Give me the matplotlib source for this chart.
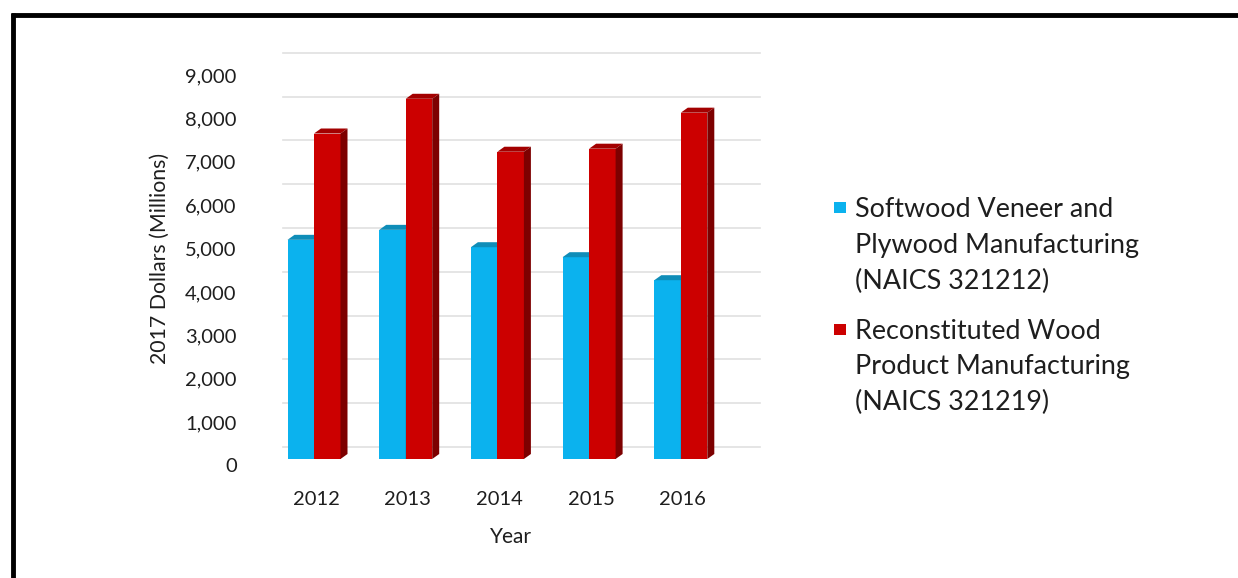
import matplotlib
matplotlib.use("Agg")
import matplotlib.pyplot as plt
from matplotlib.patches import Polygon, Rectangle
from matplotlib.lines import Line2D
import matplotlib.transforms as mtransforms

plt.rcParams['font.family'] = ['Lato', 'DejaVu Sans']

# ---- data ----
years = ["2012", "2013", "2014", "2015", "2016"]
softwood = [5050, 5280, 4880, 4650, 4120]
reconstituted = [7500, 8300, 7080, 7150, 7980]
series_names = [
    ["Softwood Veneer and", "Plywood Manufacturing", "(NAICS 321212)"],
    ["Reconstituted Wood", "Product Manufacturing", "(NAICS 321219)"],
]
y_ticks = [0, 1000, 2000, 3000, 4000, 5000, 6000, 7000, 8000, 9000]
y_tick_labels = [f"{v:,}" for v in y_ticks]

# ---- style ----
TEXT = "#1e1e1e"
front_cols = ["#0bb2ee", "#cc0000"]
top_cols = ["#0f8db8", "#a30000"]
side_cols = ["#0a7ea6", "#7d0000"]
GRID = "#e0e0e0"

W, H, DPI = 1238, 578, 100
fig = plt.figure(figsize=(W / DPI, H / DPI), dpi=DPI)
fig.patch.set_facecolor("white")

# plot area in pixel terms (from top-left)
PX_L, PX_R, PX_T, PX_B = 245, 800, 30, 480
CAT0_PX, CAT_STEP_PX = 314, 91.7        # first category centre, spacing
ZERO_PX, PX_PER_UNIT = 459, 0.0434      # front-plane baseline and scale

ax = fig.add_axes([PX_L / W, 1 - PX_B / H, (PX_R - PX_L) / W, (PX_B - PX_T) / H])
ax.set_xlim((PX_L - CAT0_PX) / CAT_STEP_PX, (PX_R - CAT0_PX) / CAT_STEP_PX)
ax.set_ylim((ZERO_PX - PX_B) / PX_PER_UNIT, (ZERO_PX - PX_T) / PX_PER_UNIT)
for s in ax.spines.values():
    s.set_visible(False)
ax.set_facecolor("none")

# 3-D look: bar width and depth offsets
bar_w = 26.5 / CAT_STEP_PX
bar_dx = 7.0 / CAT_STEP_PX
bar_dy = 5.0 / PX_PER_UNIT
floor_dy = 12.0 / PX_PER_UNIT
wall_scale = 0.0438 / PX_PER_UNIT
wall_x0 = (283 - CAT0_PX) / CAT_STEP_PX
wall_x1 = (760 - CAT0_PX) / CAT_STEP_PX

# back-wall gridlines
for v in y_ticks:
    yy = floor_dy + v * wall_scale
    ax.add_line(Line2D([wall_x0, wall_x1], [yy, yy], color=GRID, lw=1.2, zorder=1))

# bars
for k, vals in enumerate([softwood, reconstituted]):
    for i, v in enumerate(vals):
        x0 = i - bar_w if k == 0 else i
        x1 = x0 + bar_w
        ax.add_patch(Rectangle((x0, 0), bar_w, v, facecolor=front_cols[k],
                               edgecolor="none", zorder=3 + k))
        ax.add_patch(Polygon([(x0, v), (x1, v), (x1 + bar_dx, v + bar_dy),
                              (x0 + bar_dx, v + bar_dy)], closed=True,
                             facecolor=top_cols[k], edgecolor="none", zorder=3 + k))
        ax.add_patch(Polygon([(x1, 0), (x1 + bar_dx, bar_dy), (x1 + bar_dx, v + bar_dy),
                              (x1, v)], closed=True,
                             facecolor=side_cols[k], edgecolor="none", zorder=3 + k))

# axes ticks
ax.set_yticks(y_ticks)
ax.set_yticklabels(y_tick_labels)
ax.set_xticks(range(len(years)))
ax.set_xticklabels(years)
ax.tick_params(axis="both", length=0, labelsize=14.5, colors=TEXT)
ax.tick_params(axis="y", pad=6)
ax.tick_params(axis="x", pad=8)
shift = mtransforms.ScaledTranslation(0, -6.5 / DPI, fig.dpi_scale_trans)
for lbl in ax.get_yticklabels():
    lbl.set_transform(lbl.get_transform() + shift)
shiftx = mtransforms.ScaledTranslation(2 / DPI, 0, fig.dpi_scale_trans)
for lbl in ax.get_xticklabels():
    lbl.set_transform(lbl.get_transform() + shiftx)

fig.text(511 / W, 1 - 537 / H, "Year", ha="center", va="center",
         fontsize=15, color=TEXT)
fig.text(160 / W, 1 - 258 / H, "2017 Dollars (Millions)", ha="center", va="center",
         rotation=90, fontsize=15.3, color=TEXT)

# legend
leg_rows = [[207, 243, 279], [329, 364, 400]]
for k, lines in enumerate(series_names):
    rows = leg_rows[k]
    fig.add_artist(Rectangle((834 / W, 1 - (rows[0] + 6) / H), 12 / W, 11 / H,
                             transform=fig.transFigure, facecolor=front_cols[k],
                             edgecolor="none"))
    for yc, line in zip(rows, lines):
        fig.text(855 / W, 1 - yc / H, line, ha="left", va="center_baseline",
                 fontsize=19.4, color=TEXT)

# frame lines
fig.add_artist(Line2D([11 / W, 1], [1 - 15 / H, 1 - 15 / H], color="black", lw=3.5,
                      transform=fig.transFigure, solid_capstyle="butt"))
fig.add_artist(Line2D([13 / W, 13 / W], [0, 1 - 13 / H], color="black", lw=3.5,
                      transform=fig.transFigure, solid_capstyle="butt"))

fig.savefig("out.png", dpi=DPI, facecolor="white")
